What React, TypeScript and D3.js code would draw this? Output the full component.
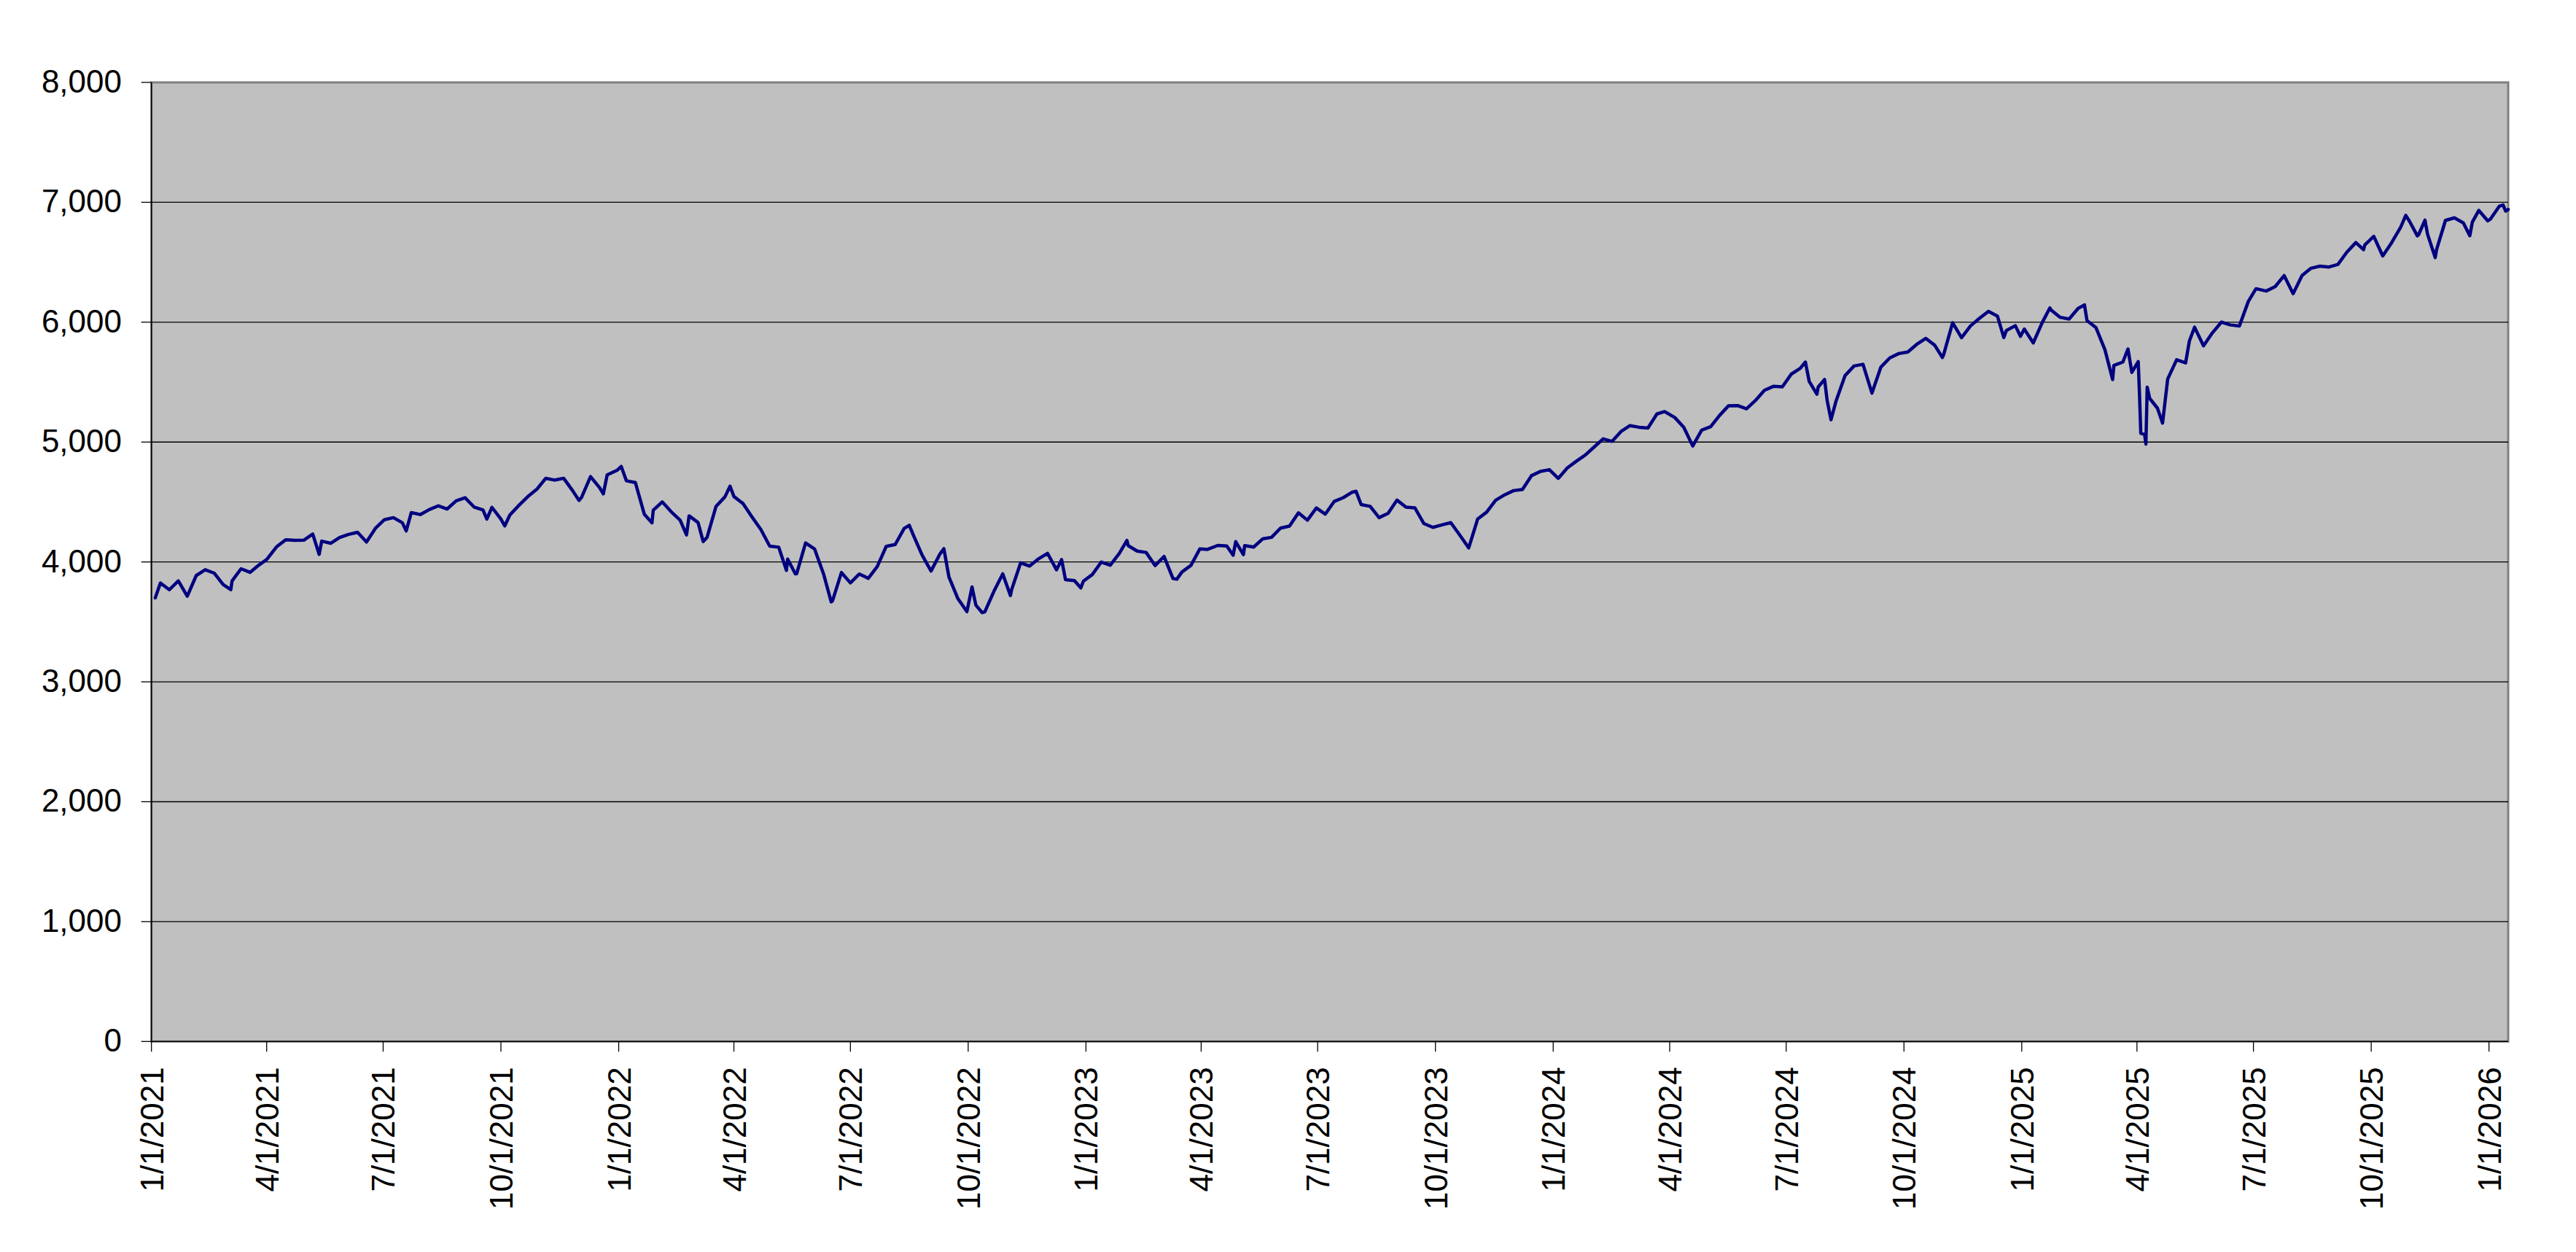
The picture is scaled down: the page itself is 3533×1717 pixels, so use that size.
import React from "react";
import * as d3 from "d3";

const dates: string[] = [
  "2021-01-04","2021-01-08","2021-01-15","2021-01-22","2021-01-29","2021-02-05","2021-02-12","2021-02-19","2021-02-26","2021-03-04","2021-03-05","2021-03-12","2021-03-19","2021-03-26","2021-04-01","2021-04-09","2021-04-16","2021-04-23","2021-04-30","2021-05-07","2021-05-12","2021-05-14","2021-05-21","2021-05-28","2021-06-04","2021-06-11","2021-06-18","2021-06-25","2021-07-02","2021-07-09","2021-07-16","2021-07-19","2021-07-23","2021-07-30","2021-08-06","2021-08-13","2021-08-20","2021-08-27","2021-09-03","2021-09-10","2021-09-17","2021-09-20","2021-09-24","2021-10-01","2021-10-04","2021-10-08","2021-10-15","2021-10-22","2021-10-29","2021-11-05","2021-11-12","2021-11-19","2021-11-26","2021-12-01","2021-12-03","2021-12-10","2021-12-17","2021-12-20","2021-12-23","2021-12-31",
  "2022-01-03","2022-01-07","2022-01-14","2022-01-21","2022-01-27","2022-01-28","2022-02-04","2022-02-11","2022-02-18","2022-02-23","2022-02-25","2022-03-04","2022-03-08","2022-03-11","2022-03-18","2022-03-25","2022-03-29","2022-04-01","2022-04-08","2022-04-14","2022-04-22","2022-04-29","2022-05-06","2022-05-12","2022-05-13","2022-05-19","2022-05-20","2022-05-27","2022-06-03","2022-06-10","2022-06-16","2022-06-17","2022-06-24","2022-07-01","2022-07-08","2022-07-15","2022-07-22","2022-07-29","2022-08-05","2022-08-12","2022-08-16","2022-08-19","2022-08-26","2022-09-02","2022-09-09","2022-09-12","2022-09-16","2022-09-23","2022-09-30","2022-10-04","2022-10-07","2022-10-12","2022-10-14","2022-10-21","2022-10-28","2022-11-03","2022-11-04","2022-11-11","2022-11-18","2022-11-25","2022-12-02","2022-12-09","2022-12-13","2022-12-16","2022-12-23","2022-12-28","2022-12-30",
  "2023-01-06","2023-01-13","2023-01-20","2023-01-27","2023-02-02","2023-02-03","2023-02-10","2023-02-17","2023-02-24","2023-03-03","2023-03-10","2023-03-13","2023-03-17","2023-03-24","2023-03-31","2023-04-06","2023-04-14","2023-04-21","2023-04-26","2023-04-28","2023-05-04","2023-05-05","2023-05-12","2023-05-19","2023-05-26","2023-06-02","2023-06-09","2023-06-16","2023-06-23","2023-06-30","2023-07-07","2023-07-14","2023-07-21","2023-07-28","2023-07-31","2023-08-04","2023-08-11","2023-08-18","2023-08-25","2023-09-01","2023-09-08","2023-09-15","2023-09-22","2023-09-29","2023-10-06","2023-10-13","2023-10-20","2023-10-27","2023-11-03","2023-11-10","2023-11-17","2023-11-24","2023-12-01","2023-12-08","2023-12-15","2023-12-22","2023-12-29",
  "2024-01-05","2024-01-12","2024-01-19","2024-01-26","2024-02-02","2024-02-09","2024-02-16","2024-02-23","2024-03-01","2024-03-08","2024-03-15","2024-03-22","2024-03-28","2024-04-05","2024-04-12","2024-04-19","2024-04-26","2024-05-03","2024-05-10","2024-05-17","2024-05-24","2024-05-31","2024-06-07","2024-06-14","2024-06-21","2024-06-28","2024-07-05","2024-07-12","2024-07-16","2024-07-19","2024-07-25","2024-07-26","2024-07-31","2024-08-02","2024-08-05","2024-08-09","2024-08-16","2024-08-23","2024-08-30","2024-09-06","2024-09-13","2024-09-20","2024-09-27","2024-10-04","2024-10-11","2024-10-18","2024-10-25","2024-10-31","2024-11-01","2024-11-08","2024-11-15","2024-11-22","2024-11-29","2024-12-06","2024-12-13","2024-12-18","2024-12-20","2024-12-27","2024-12-31",
  "2025-01-03","2025-01-10","2025-01-17","2025-01-23","2025-01-24","2025-01-31","2025-02-07","2025-02-14","2025-02-19","2025-02-21","2025-02-28","2025-03-07","2025-03-13","2025-03-14","2025-03-21","2025-03-25","2025-03-28","2025-04-02","2025-04-03","2025-04-04","2025-04-07","2025-04-08","2025-04-09","2025-04-11","2025-04-17","2025-04-21","2025-04-25","2025-05-02","2025-05-09","2025-05-12","2025-05-16","2025-05-23","2025-05-30","2025-06-06","2025-06-13","2025-06-20","2025-06-27","2025-07-03","2025-07-11","2025-07-18","2025-07-25","2025-08-01","2025-08-08","2025-08-15","2025-08-22","2025-08-29","2025-09-05","2025-09-12","2025-09-19","2025-09-25","2025-09-26","2025-10-03","2025-10-10","2025-10-17","2025-10-24","2025-10-28","2025-10-31","2025-11-06","2025-11-07","2025-11-12","2025-11-14","2025-11-20","2025-11-21","2025-11-28","2025-12-05","2025-12-12","2025-12-17","2025-12-19","2025-12-24","2025-12-31",
  "2026-01-02","2026-01-09","2026-01-12","2026-01-14","2026-01-16",
];

const closes: number[] = [
  3700.65,3824.68,3768.25,3841.47,3714.24,3886.83,3934.83,3906.71,3811.15,3768.47,3841.94,3943.34,3913.10,3974.54,4019.87,4128.80,4185.47,4180.17,4181.17,4232.60,4063.04,4173.85,4155.86,4204.11,4229.89,4247.44,4166.45,4280.70,4352.34,4369.55,4327.16,4258.49,4411.79,4395.26,4436.52,4468.00,4441.67,4509.37,4535.43,4458.58,4432.99,4357.73,4455.48,4357.04,4300.46,4391.34,4471.37,4544.90,4605.38,4697.53,4682.85,4697.96,4594.62,4513.04,4538.43,4712.02,4620.64,4568.02,4725.79,4766.18,
  4796.56,4677.03,4662.85,4397.94,4326.51,4431.85,4500.53,4418.64,4348.87,4225.50,4384.65,4328.87,4170.70,4204.31,4463.12,4543.06,4631.60,4545.86,4488.28,4392.59,4271.78,4131.93,4123.34,3930.08,4023.89,3900.79,3901.36,4158.24,4108.54,3900.86,3666.77,3674.84,3911.74,3825.33,3899.38,3863.16,3961.63,4130.29,4145.19,4280.15,4305.20,4228.48,4057.66,3924.26,4067.36,4110.41,3873.33,3693.23,3585.62,3790.93,3639.66,3577.03,3583.07,3752.75,3901.06,3719.89,3770.55,3992.93,3965.34,4026.12,4071.70,3934.38,4019.65,3852.36,3844.82,3783.22,3839.50,
  3895.08,3999.09,3972.61,4070.56,4179.76,4136.48,4090.46,4079.09,3970.04,4045.64,3861.59,3855.76,3916.64,3970.99,4109.31,4105.02,4137.64,4133.52,4055.99,4169.48,4061.22,4136.25,4124.08,4191.98,4205.45,4282.37,4298.86,4409.59,4348.33,4450.38,4398.95,4505.42,4536.34,4582.23,4588.96,4478.03,4464.05,4369.71,4405.71,4515.77,4457.49,4450.32,4320.06,4288.05,4308.50,4327.78,4224.16,4117.37,4358.34,4415.24,4514.02,4559.34,4594.63,4604.37,4719.19,4754.63,4769.83,
  4697.24,4783.83,4839.81,4890.97,4958.61,5026.61,5005.57,5088.80,5137.08,5123.69,5117.09,5234.18,5254.35,5204.34,5123.41,4967.23,5099.96,5127.79,5222.68,5303.27,5304.72,5277.51,5346.99,5431.60,5464.62,5460.48,5567.19,5615.35,5667.20,5505.00,5399.22,5459.10,5522.30,5346.56,5186.33,5344.16,5554.25,5634.61,5648.40,5408.42,5626.02,5702.55,5738.17,5751.07,5815.03,5864.67,5808.12,5705.45,5728.80,5995.54,5870.62,5969.34,6032.38,6090.27,6051.09,5872.16,5930.85,5970.84,5881.63,
  5942.47,5827.04,5996.66,6118.71,6101.24,6040.53,6025.99,6114.63,6144.15,6013.13,5954.50,5770.20,5521.52,5638.94,5667.56,5776.65,5580.94,5670.97,5396.52,5074.08,5062.25,4982.77,5456.90,5363.36,5282.70,5158.20,5525.21,5686.67,5659.91,5844.19,5958.38,5802.82,5911.69,6000.36,5976.97,5967.84,6173.07,6279.35,6259.75,6296.79,6388.64,6238.01,6389.45,6449.80,6466.91,6460.26,6481.50,6584.29,6664.36,6604.72,6643.70,6715.79,6552.51,6664.01,6791.69,6890.89,6840.20,6720.32,6728.80,6850.92,6734.11,6538.76,6602.99,6849.09,6870.40,6827.41,6721.43,6834.50,6932.05,6845.50,
  6858.47,6966.28,6977.27,6926.60,6940.01,
];

const yTicks: number[] = [0, 1000, 2000, 3000, 4000, 5000, 6000, 7000, 8000];
const xTickDates: string[] = [
  "2021-01-01","2021-04-01","2021-07-01","2021-10-01","2022-01-01","2022-04-01","2022-07-01","2022-10-01",
  "2023-01-01","2023-04-01","2023-07-01","2023-10-01","2024-01-01","2024-04-01","2024-07-01","2024-10-01",
  "2025-01-01","2025-04-01","2025-07-01","2025-10-01","2026-01-01",
];
const xStart = "2021-01-01";
const xEnd = "2026-01-16";

const W = 3533;
const H = 1717;
const L = 207.7;
const R = 3440;
const T = 113;
const B = 1428.3;

const parse = d3.utcParse("%Y-%m-%d");
const fmtX = (d: Date) => `${d.getUTCMonth() + 1}/${d.getUTCDate()}/${d.getUTCFullYear()}`;
const fmtY = d3.format(",");

export default function App() {
  const x = d3.scaleUtc().domain([parse(xStart)!, parse(xEnd)!]).range([L, R]);
  const y = d3.scaleLinear().domain([0, 8000]).range([B, T]);
  const pts = dates.map((d, i) => ({ d: parse(d)!, v: closes[i] }));
  const line = d3
    .line<{ d: Date; v: number }>()
    .x((p) => x(p.d))
    .y((p) => y(p.v));
  const font = "'Liberation Sans', Arial, sans-serif";

  return (
    <svg
      width={W}
      height={H}
      style={{ position: "absolute", left: 0, top: 0, background: "#fff" }}
      fontFamily={font}
    >
      <rect x={0} y={0} width={W} height={H} fill="#ffffff" />
      <rect x={L} y={T} width={R - L} height={B - T} fill="#C0C0C0" stroke="#808080" strokeWidth={3} />
      {yTicks
        .filter((t) => t > 0 && t < 8000)
        .map((t) => (
          <line key={"g" + t} x1={L} x2={R} y1={y(t)} y2={y(t)} stroke="#000" strokeWidth={1.3} />
        ))}
      <path d={line(pts) || ""} fill="none" stroke="#000080" strokeWidth={4.5} strokeLinejoin="round" strokeLinecap="round" />
      <line x1={L} x2={L} y1={T} y2={B} stroke="#000" strokeWidth={1.6} />
      <line x1={L} x2={R} y1={B} y2={B} stroke="#000" strokeWidth={1.6} />
      {yTicks.map((t) => (
        <g key={"y" + t}>
          <line x1={L - 14} x2={L} y1={y(t)} y2={y(t)} stroke="#000" strokeWidth={1.3} />
          <text x={167} y={y(t) + 14} textAnchor="end" fontSize={44} fill="#000">
            {fmtY(t)}
          </text>
        </g>
      ))}
      {xTickDates.map((s) => {
        const d = parse(s)!;
        const px = x(d);
        return (
          <g key={"x" + s}>
            <line x1={px} x2={px} y1={B} y2={B + 14} stroke="#000" strokeWidth={1.3} />
            <text
              transform={`translate(${px + 16},${B + 35}) rotate(-90)`}
              textAnchor="end"
              fontSize={44}
              fill="#000"
            >
              {fmtX(d)}
            </text>
          </g>
        );
      })}
    </svg>
  );
}
